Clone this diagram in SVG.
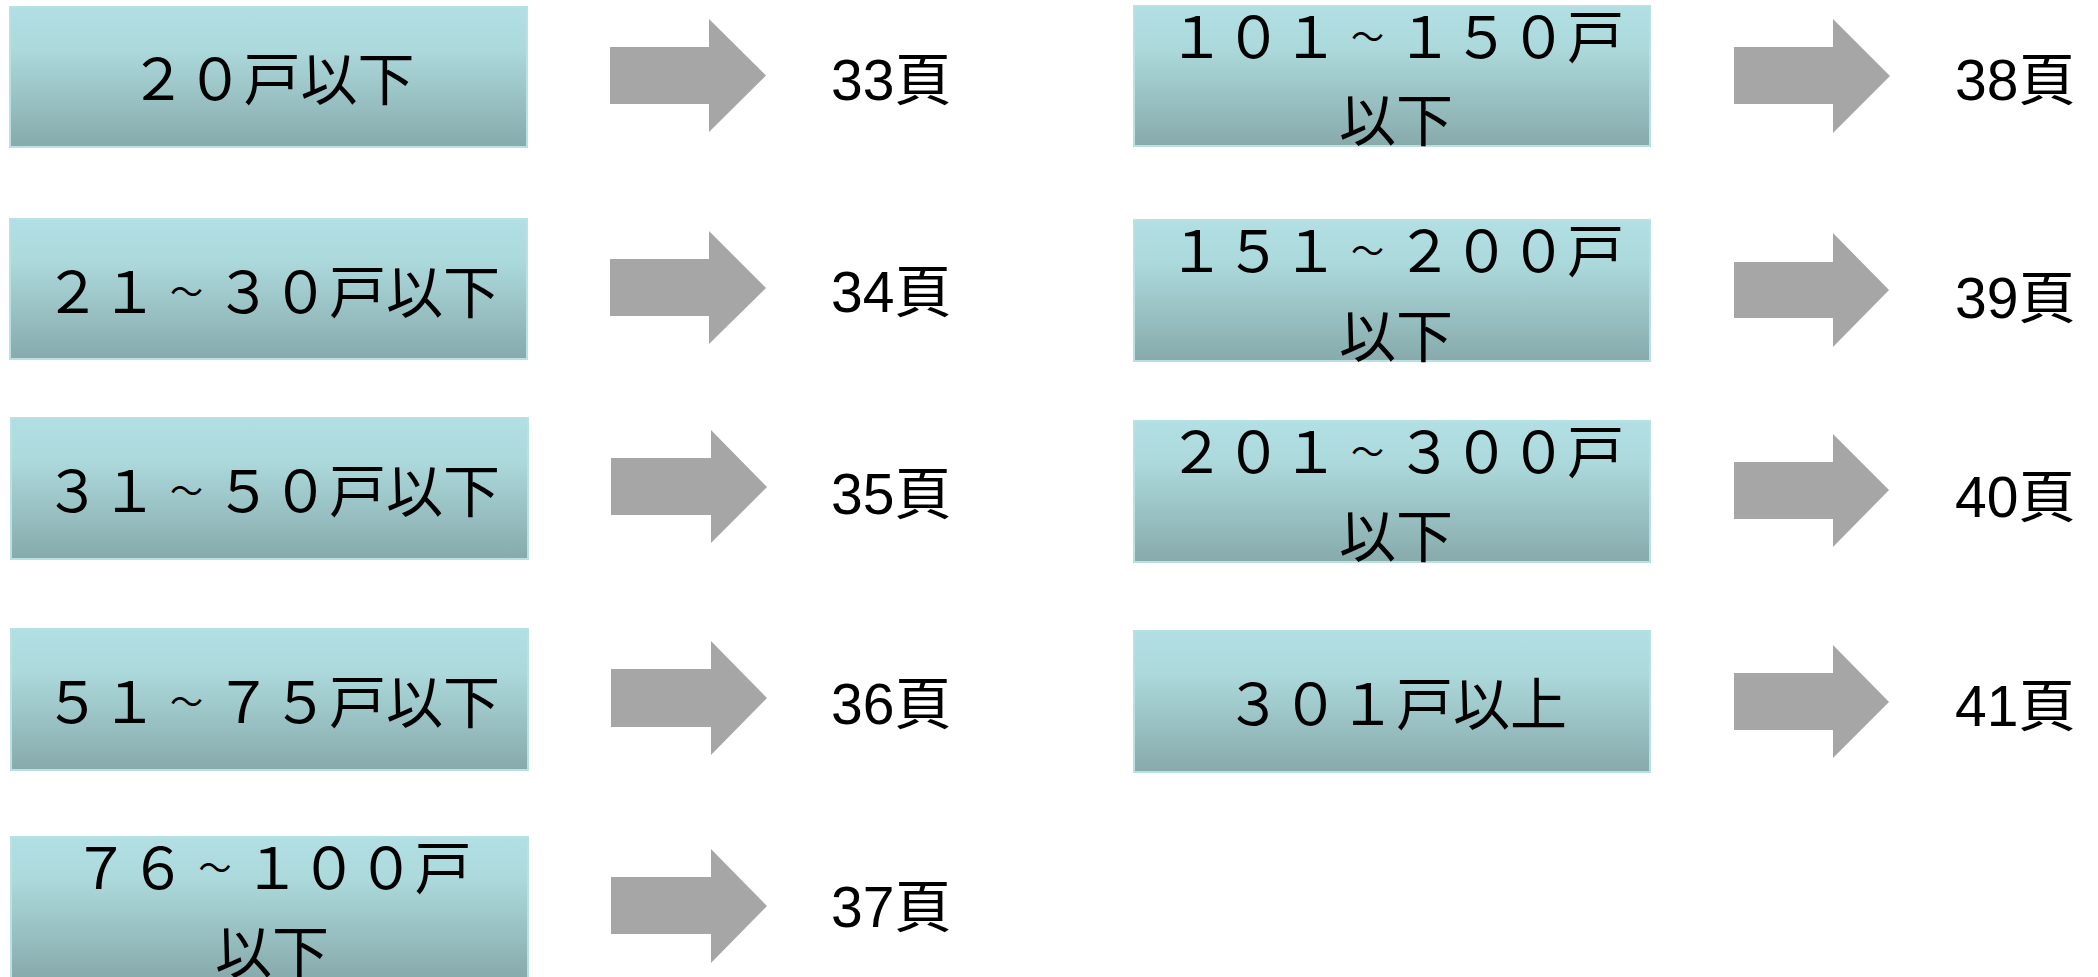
<svg xmlns="http://www.w3.org/2000/svg" width="2098" height="977" viewBox="0 0 2098 977">
<style>
.box{fill:url(#g);stroke:#b9e1e4;stroke-width:2}
.lbl{font-family:"Noto Sans CJK JP","Noto Sans CJK SC",sans-serif;font-size:57px;fill:#000;text-anchor:middle}
.t{font-size:33px}
.pg{font-family:"Liberation Sans","Noto Sans CJK JP",sans-serif;font-size:57px;fill:#000}
.arr{fill:#a6a6a6}
</style>
<defs>
<linearGradient id="g" x1="0" y1="0" x2="0" y2="1">
<stop offset="0" stop-color="#b1dfe3"/>
<stop offset="0.3" stop-color="#acd9dc"/>
<stop offset="1" stop-color="#87aaab"/>
</linearGradient>
</defs>
<rect width="2098" height="977" fill="#fff"/>
<g id="connectors">
<polygon class="arr" points="610,47 709,47 709,19 766,75.5 709,132 709,104 610,104"/>
<polygon class="arr" points="610,259 709,259 709,231 766,288 709,344 709,316 610,316"/>
<polygon class="arr" points="611,458 711,458 711,430 767,487 711,543 711,515 611,515"/>
<polygon class="arr" points="611,669 711,669 711,641 767,698 711,755 711,727 611,727"/>
<polygon class="arr" points="611,877 711,877 711,849 767,906 711,963 711,934 611,934"/>
<polygon class="arr" points="1734,47 1833,47 1833,19 1890,76 1833,133 1833,104 1734,104"/>
<polygon class="arr" points="1734,262 1833,262 1833,233 1889,290 1833,347 1833,318 1734,318"/>
<polygon class="arr" points="1734,462 1833,462 1833,434 1889,490 1833,547 1833,519 1734,519"/>
<polygon class="arr" points="1734,673 1833,673 1833,645 1889,702 1833,758 1833,730 1734,730"/>
</g>
<g id="n1"><rect class="box" x="10" y="7" width="517" height="140"/><text class="lbl" x="272" y="100">２０戸以下</text></g>
<g id="n2"><rect class="box" x="10" y="219" width="517" height="140"/><text class="lbl" x="272" y="313">２１<tspan class="t" dx="12" dy="-9">～</tspan><tspan dx="12" dy="9">３０戸以下</tspan></text></g>
<g id="n3"><rect class="box" x="11" y="418" width="517" height="141"/><text class="lbl" x="272" y="512">３１<tspan class="t" dx="12" dy="-9">～</tspan><tspan dx="12" dy="9">５０戸以下</tspan></text></g>
<g id="n4"><rect class="box" x="11" y="629" width="517" height="141"/><text class="lbl" x="272" y="723">５１<tspan class="t" dx="12" dy="-9">～</tspan><tspan dx="12" dy="9">７５戸以下</tspan></text></g>
<g id="n5"><rect class="box" x="11" y="837" width="517" height="142"/><text class="lbl" x="272" y="889">７６<tspan class="t" dx="12" dy="-9">～</tspan><tspan dx="12" dy="9">１００戸</tspan></text><text class="lbl" x="272" y="973">以下</text></g>
<g id="n6"><rect class="box" x="1134" y="6" width="516" height="140"/><text class="lbl" x="1396" y="58">１０１<tspan class="t" dx="12" dy="-9">～</tspan><tspan dx="12" dy="9">１５０戸</tspan></text><text class="lbl" x="1396" y="141">以下</text></g>
<g id="n7"><rect class="box" x="1134" y="220" width="516" height="141"/><text class="lbl" x="1396" y="272">１５１<tspan class="t" dx="12" dy="-9">～</tspan><tspan dx="12" dy="9">２００戸</tspan></text><text class="lbl" x="1396" y="357">以下</text></g>
<g id="n8"><rect class="box" x="1134" y="421" width="516" height="141"/><text class="lbl" x="1396" y="473">２０１<tspan class="t" dx="12" dy="-9">～</tspan><tspan dx="12" dy="9">３００戸</tspan></text><text class="lbl" x="1396" y="557">以下</text></g>
<g id="n9"><rect class="box" x="1134" y="631" width="516" height="141"/><text class="lbl" x="1396" y="725">３０１戸以上</text></g>
<g id="p1"><text class="pg" x="831" y="100">33頁</text></g>
<g id="p2"><text class="pg" x="831" y="312">34頁</text></g>
<g id="p3"><text class="pg" x="831" y="514">35頁</text></g>
<g id="p4"><text class="pg" x="831" y="724">36頁</text></g>
<g id="p5"><text class="pg" x="831" y="927">37頁</text></g>
<g id="p6"><text class="pg" x="1955" y="100">38頁</text></g>
<g id="p7"><text class="pg" x="1955" y="318">39頁</text></g>
<g id="p8"><text class="pg" x="1955" y="517">40頁</text></g>
<g id="p9"><text class="pg" x="1955" y="726">41頁</text></g>
</svg>
